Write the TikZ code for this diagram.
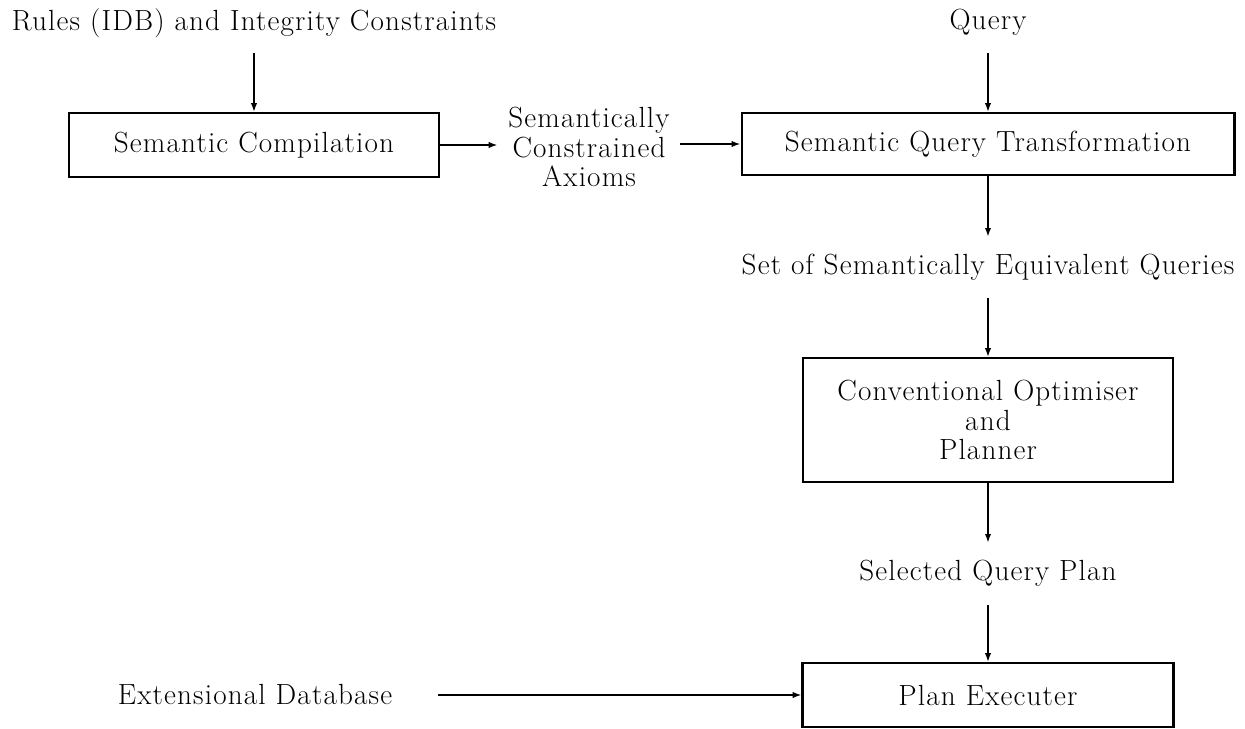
\documentclass[tikz,border=0pt]{standalone}
\usepackage{fontspec}
\setmainfont{Latin Modern Roman}[LetterSpace=4]
\usetikzlibrary{arrows.meta}
\begin{document}
\begin{tikzpicture}[x=0.02cm, y=-0.02cm,
  font=\fontsize{16.6pt}{17pt}\selectfont,
  box/.style={draw, line width=1.2pt, inner sep=0pt, align=center},
  lbl/.style={inner sep=0pt, text height=12pt, text depth=4pt, align=center},
  arr/.style={line width=0.9pt, -{Latex[length=5pt,width=3.6pt]}}]
\useasboundingbox (0,0) rectangle (1245,728);

% inputs
\node[lbl] (rules) at (254,23) {Rules (IDB) and Integrity Constraints};
\node[lbl] (query) at (988,22) {Query};

% processing stages
\node[box, minimum width=7.4cm, minimum height=1.28cm] (comp) at (254,145) {Semantic Compilation};
\node[inner sep=0pt, align=center] (sca) at (589,147) {Semantically\\Constrained\\Axioms};
\node[box, minimum width=9.86cm, minimum height=1.24cm] (sqt) at (988,144) {Semantic Query Transformation};
\node[lbl] (seteq) at (988,267) {Set of Semantically Equivalent Queries};
\node[box, minimum width=7.4cm, minimum height=2.48cm] (opt) at (988,420) {Conventional Optimiser\\and\\Planner};
\node[lbl] (plan) at (988,573) {Selected Query Plan};
\node[box, minimum width=7.42cm, minimum height=1.28cm] (exec) at (988,695) {Plan Executer};
\node[lbl] (edb) at (255,697) {Extensional Database};

% connectors
\draw[arr, shorten <=9pt] (rules.south) -- (comp.north);
\draw[arr, shorten <=9.5pt] (query.south) -- (sqt.north);
\draw[arr, shorten >=6pt] (comp.east) -- (comp.east -| sca.west);
\draw[arr, shorten <=5.7pt] (sca.east |- sqt.west) -- (sqt.west);
\draw[arr, shorten >=9pt] (sqt.south) -- (seteq.north);
\draw[arr, shorten <=9.5pt] (seteq.south) -- (opt.north);
\draw[arr, shorten >=9pt] (opt.south) -- (plan.north);
\draw[arr, shorten <=10pt] (plan.south) -- (exec.north);
\draw[arr, shorten <=26pt] (edb.east |- exec.west) -- (exec.west);
\end{tikzpicture}
\end{document}
